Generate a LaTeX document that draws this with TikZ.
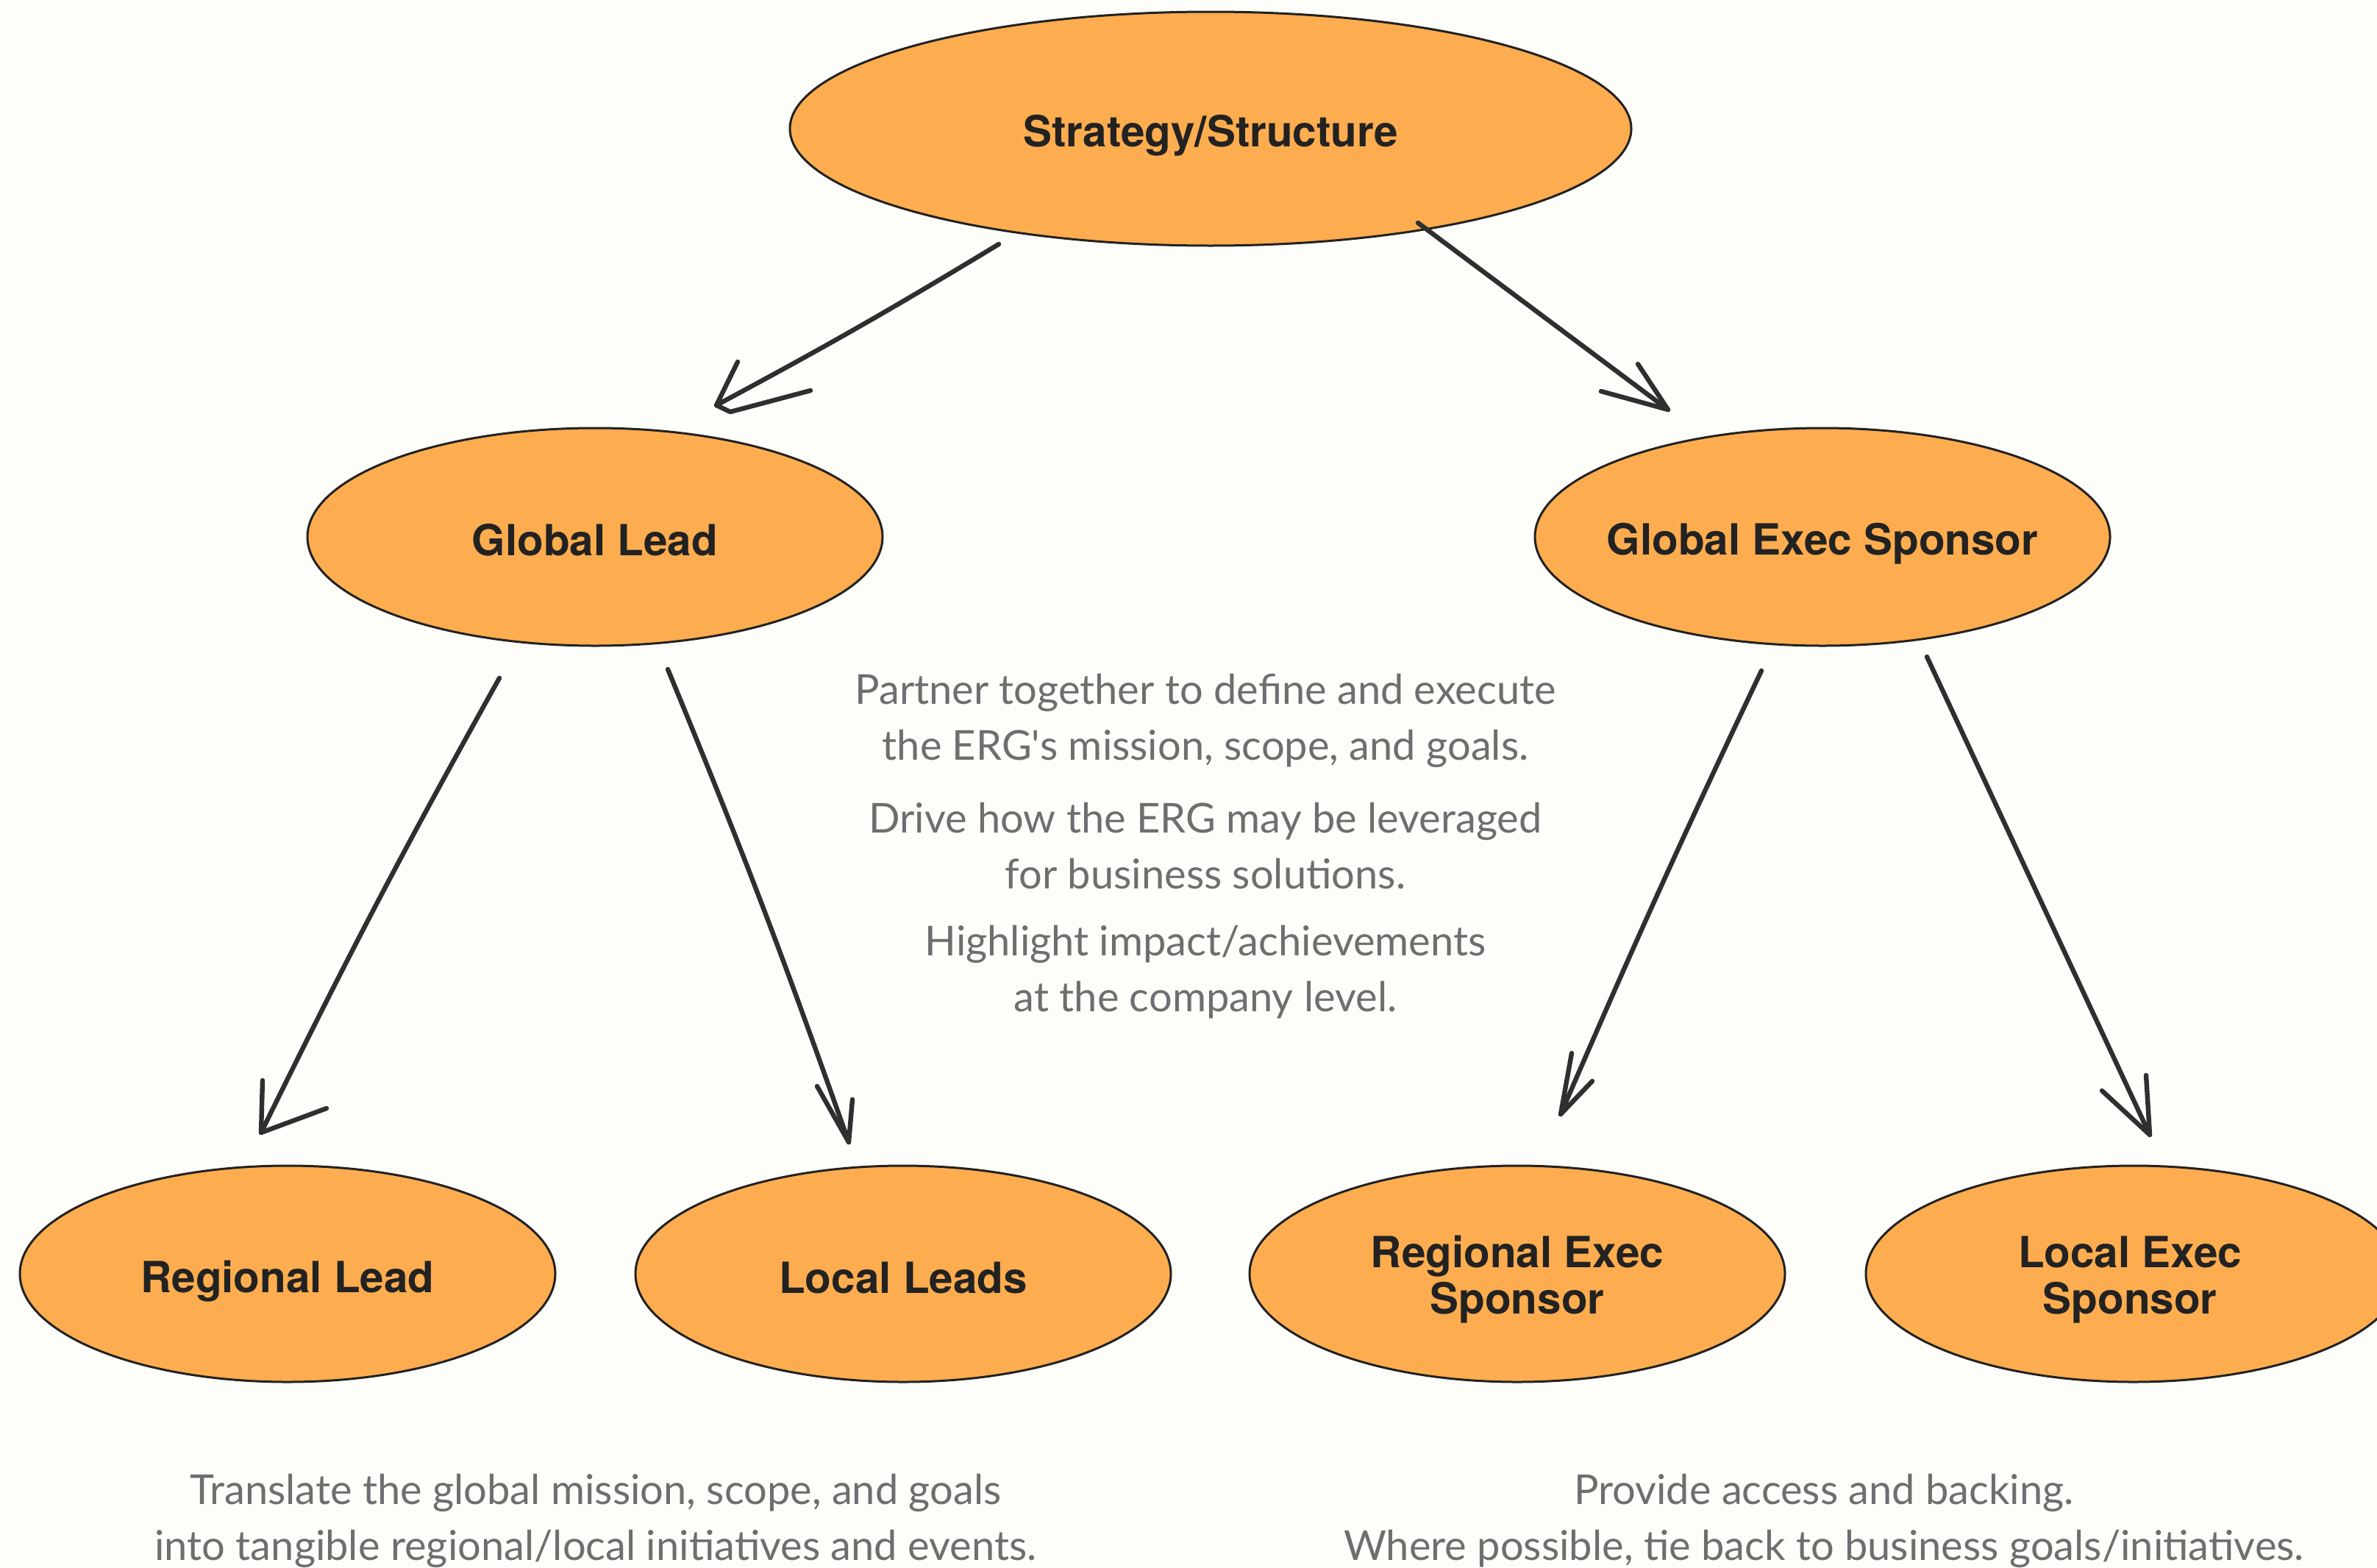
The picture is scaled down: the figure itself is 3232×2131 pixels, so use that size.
\documentclass[tikz,border=0pt]{standalone}
\usepackage{fontspec}
\setmainfont{Lato}
\newfontfamily\headfont{TeX Gyre Heros}
\usetikzlibrary{shapes.geometric}
\definecolor{bg}{HTML}{FDFDFA}
\definecolor{orng}{HTML}{FDAD4F}
\definecolor{ink}{HTML}{222222}
\definecolor{greytext}{HTML}{6E6E6E}
\definecolor{pencil}{HTML}{2F2F2F}
\begin{document}
\begin{tikzpicture}[x=0.25pt,y=-0.25pt,
  oval/.style={ellipse, draw=ink, line width=0.75pt, fill=orng, inner sep=0pt},
  lbl/.style={text=ink, font=\headfont\bfseries\fontsize{14.6}{15.75}\selectfont, align=center, inner sep=0pt},
  bigoval/.style={oval, minimum width=286pt, minimum height=79.5pt},
  midoval/.style={oval, minimum width=195.5pt, minimum height=74pt},
  lowoval/.style={oval, minimum width=182pt, minimum height=73.5pt},
  note/.style={text=greytext, font=\fontsize{14}{19}\selectfont, align=center, inner sep=0pt},
  sk/.style={draw=pencil, line width=1.6pt, line cap=round, line join=round}]
\fill[bg] (0,0) rectangle (3232,2131);
\useasboundingbox (0,0) rectangle (3232,2131);

% nodes
\node[bigoval, label={[lbl, yshift=-2.4pt]center:Strategy/Structure}] (strat) at (1646,175) {};
\node[midoval, label={[lbl, yshift=-1pt]center:Global Lead}] (glead) at (809,730) {};
\node[midoval, label={[lbl, yshift=-2.4pt]center:Global Exec Sponsor}] (gexec) at (2478,730) {};
\node[lowoval, label={[lbl, yshift=-2.4pt]center:Regional Lead}] (rlead) at (391,1732) {};
\node[lowoval, label={[lbl, yshift=-1.4pt]center:Local Leads}] (llead) at (1228,1732) {};
\node[lowoval, label={[lbl, yshift=-2pt]center:Regional Exec\\Sponsor}] (rexec) at (2063,1732) {};
\node[lowoval, label={[lbl, yshift=-2pt, xshift=-1.2pt]center:Local Exec\\Sponsor}] (lexec) at (2901,1732) {};

% notes
\node[note] (n1) at (1639,980) {Partner together to define and execute\\the ERG\textquotesingle s mission, scope, and goals.};
\node[note] (n2) at (1639,1150) {Drive how the ERG may be leveraged\\for business solutions.};
\node[note] (n3) at (1639,1322) {Highlight impact/achievements\\at the company level.};
\node[note] (n4) at (810,2068) {Translate the global mission, scope, and goals\\into tangible regional/local initiatives and events.};
\node[note] (n5) at (2480,2068) {Provide access and backing.\\Where possible, tie back to business goals/initiatives.};

% arrow end points
\coordinate (a1s) at (1358,332);  \coordinate (a1t) at (974,551);
\coordinate (a1b) at (1003,492);  \coordinate (a1c) at (1102,531); \coordinate (a1d) at (993,560);
\coordinate (a2s) at (1928,303);  \coordinate (a2t) at (2268,557);
\coordinate (a2b) at (2227,495);  \coordinate (a2c) at (2177,532);
\coordinate (a3s) at (679,922);   \coordinate (a3t) at (355,1540);
\coordinate (a3b) at (357,1469);  \coordinate (a3c) at (444,1507);
\coordinate (a4s) at (908,910);   \coordinate (a4t) at (1154,1553);
\coordinate (a4b) at (1111,1477); \coordinate (a4c) at (1159,1495);
\coordinate (a5s) at (2395,912);  \coordinate (a5t) at (2122,1515);
\coordinate (a5b) at (2137,1432); \coordinate (a5c) at (2165,1470);
\coordinate (a6s) at (2620,893);  \coordinate (a6t) at (2923,1543);
\coordinate (a6b) at (2918,1462); \coordinate (a6c) at (2858,1483);

% sketchy arrows
\draw[sk] (a1s) to[bend left=1.5] (a1t);
\draw[sk] (a1b) -- (a1t) -- (a1d) -- (a1c);
\draw[sk] (a2s) -- (a2t);
\draw[sk] (a2b) -- (a2t) -- (a2c);
\draw[sk] (a3s) to[bend right=1.5] (a3t);
\draw[sk] (a3b) -- (a3t) -- (a3c);
\draw[sk] (a4s) to[bend left=1.5] (a4t);
\draw[sk] (a4b) -- (a4t) -- (a4c);
\draw[sk] (a5s) to[bend right=1] (a5t);
\draw[sk] (a5b) -- (a5t) -- (a5c);
\draw[sk] (a6s) -- (a6t);
\draw[sk] (a6b) -- (a6t) -- (a6c);
\end{tikzpicture}
\end{document}
